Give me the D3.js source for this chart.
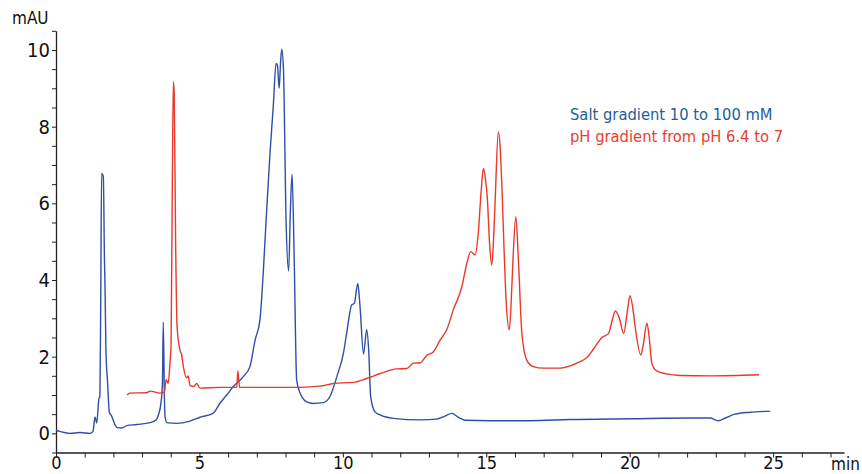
<!DOCTYPE html>
<html>
<head>
<meta charset="utf-8">
<script src="https://cdn.jsdelivr.net/npm/d3@7"></script>
<style>
  body { margin: 0; background: #fff; }
  svg { display: block; }
  text { font-family: "DejaVu Sans Condensed", "DejaVu Sans", sans-serif; font-stretch: condensed; }
</style>
</head>
<body>
<svg width="862" height="474"></svg>
<script>
// солевой градиент (синяя кривая): время, мин / сигнал, mAU
const saltTime = [0.00, 0.14, 0.49, 0.84, 1.19, 1.29, 1.36, 1.42, 1.50, 1.53, 1.56, 1.59, 1.65, 1.69, 1.71, 1.74, 1.80, 1.86, 1.94, 2.06, 2.13, 2.30, 2.47, 2.81, 3.28, 3.49, 3.57, 3.66, 3.71, 3.74, 3.78, 3.80, 3.86, 4.21, 4.67, 5.02, 5.47, 5.72, 5.95, 6.18, 6.53, 6.76, 6.94, 7.11, 7.23, 7.35, 7.46, 7.58, 7.67, 7.72, 7.78, 7.83, 7.87, 7.93, 8.02, 8.11, 8.17, 8.23, 8.30, 8.39, 8.51, 8.74, 8.97, 9.32, 9.55, 9.79, 10.02, 10.13, 10.31, 10.40, 10.52, 10.60, 10.72, 10.83, 10.90, 10.97, 11.12, 11.30, 11.76, 12.69, 13.27, 13.56, 13.80, 14.02, 14.26, 15.13, 16.53, 17.92, 20.01, 22.11, 22.80, 23.08, 23.33, 23.67, 24.20, 24.90];
const saltSignal = [0.08, 0.05, 0.00, 0.02, 0.00, 0.05, 0.43, 0.27, 0.92, 0.95, 3.5, 6.78, 6.70, 4.5, 3.8, 2.2, 1.3, 0.55, 0.45, 0.22, 0.15, 0.14, 0.20, 0.23, 0.28, 0.35, 0.48, 0.80, 1.3, 2.9, 0.9, 0.45, 0.28, 0.26, 0.32, 0.42, 0.52, 0.79, 1.00, 1.22, 1.48, 1.74, 2.43, 2.96, 4.26, 5.9, 7.3, 8.6, 9.65, 9.6, 9.0, 9.7, 10.02, 9.48, 5.56, 4.24, 5.8, 6.76, 4.7, 1.39, 1.05, 0.82, 0.78, 0.80, 0.96, 1.48, 2.09, 2.6, 3.35, 3.39, 3.91, 3.3, 2.07, 2.7, 2.17, 0.96, 0.56, 0.48, 0.39, 0.35, 0.37, 0.45, 0.52, 0.42, 0.34, 0.33, 0.33, 0.36, 0.38, 0.40, 0.40, 0.33, 0.40, 0.50, 0.55, 0.58];

// pH-градиент (красная кривая)
const phTime = [2.48, 2.58, 3.16, 3.28, 3.63, 3.78, 3.84, 3.91, 3.97, 4.01, 4.05, 4.09, 4.12, 4.17, 4.22, 4.32, 4.38, 4.44, 4.56, 4.61, 4.67, 4.79, 4.91, 5.02, 5.72, 6.30, 6.34, 6.40, 7.35, 8.51, 9.21, 9.67, 10.37, 10.83, 11.30, 11.88, 12.23, 12.46, 12.69, 12.92, 13.16, 13.39, 13.62, 13.85, 14.15, 14.32, 14.46, 14.61, 14.72, 14.82, 14.90, 14.96, 15.04, 15.11, 15.19, 15.25, 15.31, 15.42, 15.48, 15.54, 15.62, 15.69, 15.80, 15.86, 15.92, 16.03, 16.12, 16.24, 16.41, 16.64, 16.99, 17.57, 17.92, 18.27, 18.50, 18.74, 19.03, 19.26, 19.39, 19.50, 19.64, 19.79, 19.92, 20.01, 20.12, 20.19, 20.39, 20.47, 20.60, 20.68, 20.77, 20.94, 21.29, 21.76, 22.80, 24.51];
const phSignal = [1.00, 1.05, 1.06, 1.10, 1.05, 1.08, 1.40, 1.30, 1.80, 2.3, 6.0, 9.17, 8.9, 5.0, 2.8, 2.17, 2.05, 1.74, 1.45, 1.50, 1.25, 1.22, 1.30, 1.18, 1.20, 1.20, 1.63, 1.20, 1.20, 1.20, 1.23, 1.30, 1.33, 1.43, 1.56, 1.68, 1.69, 1.83, 1.84, 2.03, 2.13, 2.43, 2.70, 3.22, 3.83, 4.43, 4.74, 4.65, 5.22, 6.3, 6.91, 6.7, 6.09, 5.0, 4.39, 5.0, 6.09, 7.87, 7.5, 6.52, 4.8, 3.48, 2.70, 3.3, 4.35, 5.65, 4.52, 2.61, 1.91, 1.74, 1.70, 1.70, 1.76, 1.87, 1.97, 2.2, 2.5, 2.6, 2.95, 3.19, 3.0, 2.6, 3.2, 3.59, 3.2, 2.78, 2.04, 2.3, 2.87, 2.5, 1.83, 1.63, 1.55, 1.51, 1.50, 1.53];

const xMajorTicks = [0, 5, 10, 15, 20, 25];
const yMajorTicks = [0, 2, 4, 6, 8, 10];
const legendLabels = ["Salt gradient 10 to 100 mM", "pH gradient from pH 6.4 to 7"];

const svg = d3.select("svg");

const scX = d3.scaleLinear().domain([0, 27.47]).range([56, 844]);
const scY = d3.scaleLinear().domain([-0.5, 10.5]).range([452.5, 30.8]);

const blue = "#2f4fa6";
const red = "#e8392b";

// ось X
const axisX = d3.axisBottom(scX)
    .tickValues(d3.range(0, 28, 1))
    .tickSize(5)
    .tickSizeOuter(0)
    .tickFormat(d => xMajorTicks.includes(d) ? d : "");
const gx = svg.append("g")
    .attr("transform", `translate(0, ${scY(-0.5)})`)
    .call(axisX);
gx.select(".domain").attr("stroke", "#222").attr("stroke-width", 1.3);
gx.selectAll(".tick line").attr("stroke", "#222");
gx.selectAll(".tick text")
    .attr("font-size", 18)
    .attr("fill", "#111")
    .attr("dy", "0.72em")
    .attr("y", 4);

// ось Y
const axisY = d3.axisLeft(scY)
    .tickValues(d3.range(-0.5, 10.51, 0.5))
    .tickSize(4)
    .tickSizeOuter(0)
    .tickFormat(d => yMajorTicks.includes(d) ? d : "");
const gy = svg.append("g")
    .attr("transform", `translate(${scX(0)}, 0)`)
    .call(axisY);
gy.select(".domain").attr("stroke", "#222").attr("stroke-width", 1.3);
gy.selectAll(".tick line").attr("stroke", "#222");
gy.selectAll(".tick text")
    .attr("font-size", 20)
    .attr("fill", "#111")
    .attr("x", -6);

svg.append("text")
    .attr("x", 12).attr("y", 24)
    .attr("font-size", 17)
    .attr("fill", "#111")
    .text("mAU");

svg.append("text")
    .attr("x", 831).attr("y", 470)
    .attr("font-size", 17)
    .attr("fill", "#111")
    .text("min");

// кривые
const line = d3.line()
    .x(d => scX(d[0]))
    .y(d => scY(d[1]))
    .curve(d3.curveMonotoneX);

svg.append("path")
    .datum(d3.zip(saltTime, saltSignal))
    .attr("fill", "none")
    .attr("stroke", blue)
    .attr("stroke-width", 1.4)
    .attr("d", line);

svg.append("path")
    .datum(d3.zip(phTime, phSignal))
    .attr("fill", "none")
    .attr("stroke", red)
    .attr("stroke-width", 1.4)
    .attr("d", line);

// легенда
svg.selectAll(".legend")
    .data(legendLabels)
    .enter()
    .append("text")
    .attr("class", "legend")
    .attr("x", 570)
    .attr("y", (d, i) => 120 + i * 22)
    .attr("font-size", 16.4)
    .attr("fill", (d, i) => i === 0 ? "#1d5e9c" : "#e8402f")
    .text(d => d);
</script>
</body>
</html>
